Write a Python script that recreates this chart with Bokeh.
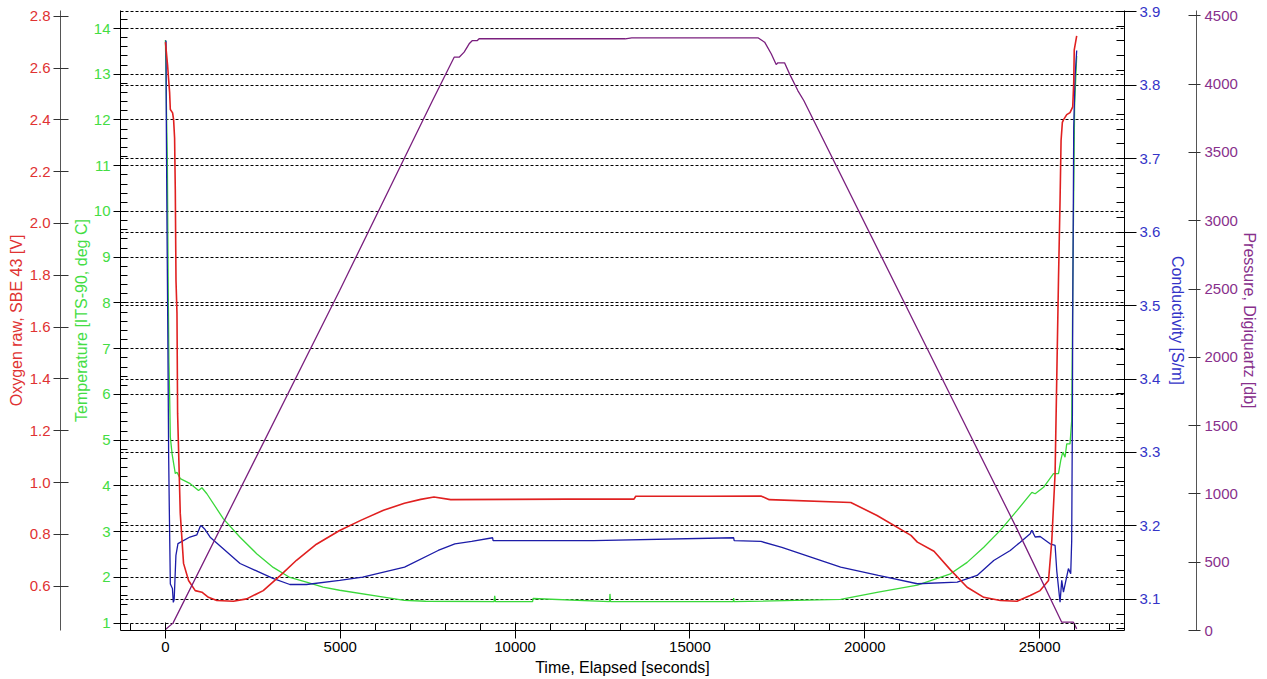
from bokeh.plotting import figure
from bokeh.models import (Range1d, LinearAxis, SingleIntervalTicker, FixedTicker, Grid,
                          PrintfTickFormatter)
from bokeh.embed import file_html
from bokeh.resources import INLINE

# ---------------- data ----------------
oxy_time = [0, 63, 91, 120, 140, 205, 234, 262, 282, 302, 330, 348, 404, 424, 518, 661, 852, 1043,
            1230, 1470, 1943, 2324, 2797, 3273, 3748, 4318, 4982, 5600, 6235, 6834, 7300, 7679, 8158,
            9835, 11500, 13400, 13450, 15500, 17030, 17269, 19600, 20350, 21320, 21504, 21979, 22451,
            22927, 23403, 23875, 24351, 24730, 25014, 25254, 25348, 25442, 25539, 25584, 25613, 25650,
            25681, 25775, 25869, 25946, 25975, 25990, 26060]
oxy_volts = [2.70, 2.608, 2.556, 2.505, 2.44, 2.427, 2.40, 2.33, 2.13, 1.78, 1.655, 1.267, 0.983, 0.881,
             0.688, 0.622, 0.583, 0.577, 0.557, 0.545, 0.542, 0.551, 0.583, 0.640, 0.700, 0.762, 0.815,
             0.855, 0.893, 0.920, 0.935, 0.944, 0.934, 0.935, 0.936, 0.936, 0.947, 0.947, 0.948, 0.934,
             0.923, 0.873, 0.796, 0.770, 0.735, 0.663, 0.596, 0.557, 0.545, 0.542, 0.564, 0.583, 0.622,
             0.777, 1.035, 1.783, 2.09, 2.32, 2.39, 2.40, 2.42, 2.428, 2.45, 2.544, 2.67, 2.724]

temp_time = [0, 30, 55, 80, 100, 120, 140, 190, 282, 330, 424, 709, 947, 1043, 1185, 1658, 2134, 2609,
             3083, 3558, 4033, 4508, 4982, 6241, 6834, 7440, 9400, 9416, 9440, 10500, 10512, 12700,
             12712, 12730, 16240, 16250, 16260, 19309, 20386, 21504, 22451, 22927, 23403, 23875, 24351,
             24778, 24872, 25112, 25396, 25539, 25604, 25661, 25727, 25775, 25869, 25917, 25950, 26000,
             26060]
temp_degc = [13.75, 12.2, 11.1, 8.3, 6.7, 5.98, 5.07, 4.70, 4.27, 4.30, 4.16, 4.05, 3.90, 3.96, 3.83,
             3.28, 2.88, 2.52, 2.22, 2.00, 1.90, 1.79, 1.72, 1.57, 1.50, 1.48, 1.47, 1.60, 1.47, 1.47,
             1.54, 1.47, 1.64, 1.47, 1.47, 1.55, 1.47, 1.52, 1.68, 1.83, 2.08, 2.33, 2.66, 3.03, 3.46,
             3.86, 3.83, 3.97, 4.27, 4.27, 4.56, 4.74, 4.63, 4.92, 4.92, 5.43, 8.5, 12.3, 13.4]

cond_time = [0, 17, 25, 46, 70, 91, 110, 140, 200, 225, 250, 300, 358, 700, 900, 1000, 1043, 1120, 1279,
             2134, 3074, 3558, 4033, 4982, 5640, 6839, 7799, 8277, 8759, 9357, 9370, 12234, 16250,
             16265, 17030, 17628, 19309, 20386, 21504, 22642, 23212, 23687, 24160, 24445, 24730, 24778,
             24872, 25014, 25299, 25442, 25490, 25584, 25632, 25681, 25823, 25889, 25917, 25937, 25946,
             25975, 26012, 26060]
cond_sm = [3.86, 3.86, 3.75, 3.60, 3.45, 3.30, 3.226, 3.121, 3.115, 3.096, 3.10, 3.16, 3.176, 3.185,
           3.188, 3.200, 3.1997, 3.196, 3.1848, 3.149, 3.1286, 3.1204, 3.1204, 3.1259, 3.1303, 3.144,
           3.1667, 3.1758, 3.179, 3.184, 3.180, 3.180, 3.184, 3.180, 3.179, 3.171, 3.144, 3.1327,
           3.1214, 3.1235, 3.1327, 3.153, 3.1667, 3.178, 3.1894, 3.194, 3.185, 3.1857, 3.1758, 3.1735,
           3.139, 3.0963, 3.126, 3.11, 3.142, 3.135, 3.18, 3.353, 3.48, 3.742, 3.81, 3.847]

pres_time = [0, 216, 4982, 7639, 8257, 8400, 8542, 8685, 8779, 8921, 8970, 13148, 13336, 16944, 17136,
             17324, 17466, 17515, 17705, 17848, 18084, 18255, 21502, 24351, 25632, 25965, 26060]
pres_db = [7, 54, 2489, 3880, 4197, 4197, 4234, 4295, 4319, 4319, 4332, 4332, 4339, 4339, 4307, 4222,
           4143, 4156, 4156, 4075, 3953, 3880, 2209, 744, 61, 61, 12]

# ---------------- styling ----------------
FONT = "Liberation Sans"
RED, RED_TXT = "#e02020", "#e03232"
GREEN, GREEN_TXT = "#3ad83a", "#44dd44"
BLUE, BLUE_TXT = "#1c1ca8", "#3434c8"
PURPLE, PURPLE_TXT = "#7a1f7e", "#88308c"

W, H = 1260, 679
p = figure(width=W, height=H, output_backend="svg", toolbar_location=None,
           x_range=Range1d(-1285, 27427), y_range=Range1d(0.8404, 14.3935),
           x_axis_type=None, y_axis_type=None,
           min_border_left=120, min_border_right=W - 1128, min_border_top=10,
           min_border_bottom=H - 630)
p.extra_y_ranges = {"oxy": Range1d(0.429, 2.822),
                    "cond": Range1d(3.0578, 3.9014),
                    "pres": Range1d(0, 4539)}
p.outline_line_color = None
p.background_fill_color = "white"
p.border_fill_color = "white"


def style(ax, label_color, line_color="black", tick_color="black"):
    ax.major_label_text_font = FONT
    ax.major_label_text_font_size = "15px"
    ax.major_label_text_color = label_color
    ax.axis_label_text_font = FONT
    ax.axis_label_text_font_size = "16px"
    ax.axis_label_text_font_style = "normal"
    ax.axis_label_text_color = label_color
    ax.axis_line_color = line_color
    ax.major_tick_line_color = tick_color
    ax.minor_tick_line_color = tick_color


def spacer(gap, range_name="default"):
    # an empty axis whose only content is a blank label, used to open a gap between two axes
    ax = LinearAxis(y_range_name=range_name, ticker=FixedTicker(ticks=[]), axis_line_color=None,
                    major_tick_out=0, minor_tick_out=0, major_label_standoff=0,
                    axis_label=" ", axis_label_text_font_size="1px", axis_label_standoff=gap)
    return ax


# x axis
xax = LinearAxis(ticker=SingleIntervalTicker(interval=5000, num_minor_ticks=5),
                 axis_label="Time, Elapsed [seconds]")
style(xax, "black")
xax.major_tick_in, xax.major_tick_out = 8, 8
xax.minor_tick_in, xax.minor_tick_out = 7, 0
xax.major_label_standoff = 3
xax.axis_label_standoff = 4
p.add_layout(xax, "below")

# temperature (left, on frame)
t_ticker = SingleIntervalTicker(interval=1, num_minor_ticks=5)
tax = LinearAxis(ticker=t_ticker, axis_label="Temperature [ITS-90, deg C]")
style(tax, GREEN_TXT)
tax.major_tick_in, tax.major_tick_out = 0, 7
tax.minor_tick_in, tax.minor_tick_out = 7, 0
tax.major_label_standoff = 3
tax.axis_label_standoff = 1
p.add_layout(tax, "left")

p.add_layout(spacer(5), "left")

# oxygen (outer left)
oax = LinearAxis(y_range_name="oxy", ticker=SingleIntervalTicker(interval=0.2, num_minor_ticks=0),
                 formatter=PrintfTickFormatter(format="%.1f"),
                 axis_label="Oxygen raw, SBE 43 [V]")
style(oax, RED_TXT, line_color="#555555", tick_color="#333333")
oax.major_tick_in, oax.major_tick_out = 8, 7
oax.minor_tick_in, oax.minor_tick_out = 0, 0
oax.major_label_standoff = 3
oax.axis_label_standoff = 2
p.add_layout(oax, "left")

# conductivity (right, on frame)
c_ticker = SingleIntervalTicker(interval=0.1, num_minor_ticks=5)
cax = LinearAxis(y_range_name="cond", ticker=c_ticker, axis_label="Conductivity [S/m]")
style(cax, BLUE_TXT)
cax.major_tick_in, cax.major_tick_out = 0, 12
cax.minor_tick_in, cax.minor_tick_out = 8, 0
cax.major_label_standoff = 3
cax.axis_label_standoff = 6
p.add_layout(cax, "right")

p.add_layout(spacer(3), "right")

# pressure (outer right)
pax = LinearAxis(y_range_name="pres", ticker=SingleIntervalTicker(interval=500, num_minor_ticks=0),
                 axis_label="Pressure, Digiquartz [db]")
style(pax, PURPLE_TXT, line_color="#555555", tick_color="#333333")
pax.major_tick_in, pax.major_tick_out = 8, 4
pax.minor_tick_in, pax.minor_tick_out = 0, 0
pax.major_label_standoff = 4
pax.axis_label_standoff = 0
p.add_layout(pax, "right")

# dashed grid lines at temperature and conductivity major ticks
p.add_layout(Grid(dimension=1, ticker=t_ticker, grid_line_color="black",
                  grid_line_dash="3 2", grid_line_width=1))
p.add_layout(Grid(dimension=1, y_range_name="cond", ticker=c_ticker, grid_line_color="black",
                  grid_line_dash="3 2", grid_line_width=1))

# data
p.line(temp_time, temp_degc, line_color=GREEN, line_width=1.3)
p.line(cond_time, cond_sm, y_range_name="cond", line_color=BLUE, line_width=1.3)
p.line(oxy_time, oxy_volts, y_range_name="oxy", line_color=RED, line_width=1.6)
p.line(pres_time, pres_db, y_range_name="pres", line_color=PURPLE, line_width=1.3)

open("out.html", "w").write(file_html(p, INLINE))
